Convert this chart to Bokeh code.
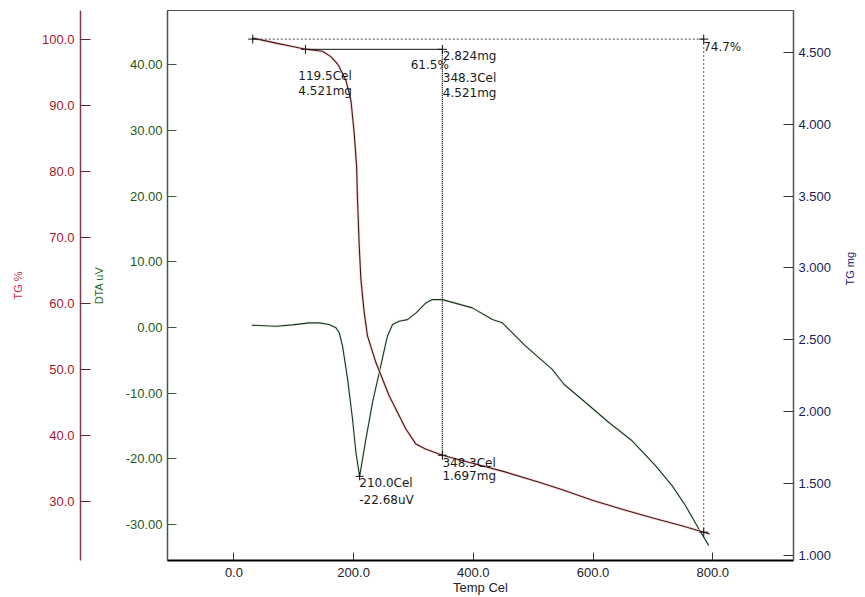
import math
from bokeh.plotting import figure
from bokeh.models import Range1d, LinearAxis, FixedTicker, NumeralTickFormatter
from bokeh.embed import file_html
from bokeh.resources import INLINE
from bokeh.core.properties import value

# ---------------- data ----------------
tg_temp = [31.4, 70.4, 98.0, 119.5, 148.0, 162.0, 173.0, 176.0, 187.0, 195.5, 201.0,
           205.0, 206.5, 209.4, 212.2, 217.7, 223.2, 237.2, 259.4, 287.3, 304.0,
           320.0, 348.3, 400.0, 450.0, 510.0, 550.0, 599.0, 650.0, 700.0, 750.0,
           785.0, 795.0]
tg_mg = [4.599, 4.564, 4.541, 4.521, 4.507, 4.470, 4.420, 4.398, 4.306, 4.167, 3.936,
         3.705, 3.474, 3.150, 2.920, 2.689, 2.527, 2.342, 2.111, 1.880, 1.776,
         1.740, 1.697, 1.640, 1.585, 1.510, 1.455, 1.384, 1.320, 1.260, 1.205,
         1.162, 1.150]

dta_temp = [29.8, 70.4, 98.0, 126.0, 142.6, 159.0, 170.5, 176.0, 181.5, 190.0, 198.2,
            203.8, 210.0, 220.5, 231.6, 242.7, 254.0, 256.6, 265.0, 276.0, 290.0,
            304.0, 320.7, 331.7, 348.3, 398.4, 431.8, 448.5, 487.5, 531.9, 551.4,
            587.6, 626.5, 665.3, 704.4, 732.0, 754.4, 776.6, 793.3]
dta_uv = [0.35, 0.20, 0.40, 0.71, 0.71, 0.45, -0.05, -0.80, -2.83, -7.90, -13.97,
          -19.00, -22.68, -17.00, -11.40, -6.90, -2.30, -1.30, 0.45, 0.96, 1.20,
          2.20, 3.75, 4.25, 4.25, 2.99, 1.21, 0.71, -2.84, -6.38, -8.65,
          -11.43, -14.47, -17.26, -21.05, -24.10, -27.13, -30.67, -33.20]

x_ticks = [0, 200, 400, 600, 800]
dta_ticks = [-30, -20, -10, 0, 10, 20, 30, 40]
pct_ticks = [30, 40, 50, 60, 70, 80, 90, 100]
mg_ticks = [1.0, 1.5, 2.0, 2.5, 3.0, 3.5, 4.0, 4.5]

# analysis results shown on the chart
m0 = 4.592            # initial mass (100 %)
t_start = 31.4
t_a = 119.5
t_b = 348.3
t_end = 785.0
m_a = 4.521
m_b = 1.697
step_loss = 61.5
total_loss = 74.7
m_end = m0 * (1 - total_loss / 100)
dta_peak_t = 210.0
dta_peak_v = -22.68

# ---------------- figure ----------------
MG_LO, MG_HI = 0.965, 4.791
p = figure(width=865, height=597, output_backend="svg", toolbar_location=None,
           x_range=Range1d(-111, 935), y_range=Range1d(-35.5, 48.3),
           min_border_left=0, min_border_right=0, min_border_top=10, min_border_bottom=0,
           background_fill_color="white", border_fill_color="white")
p.extra_y_ranges = {"mg": Range1d(MG_LO, MG_HI),
                    "pct": Range1d(MG_LO / m0 * 100, MG_HI / m0 * 100)}
p.grid.visible = False
p.outline_line_color = "#555555"
p.outline_line_width = 1

TICK_FONT = "Liberation Sans"

# x axis
xa = p.xaxis[0]
xa.ticker = FixedTicker(ticks=x_ticks)
xa.formatter = NumeralTickFormatter(format="0.0")
xa.major_tick_in = 8
xa.major_tick_out = 0
xa.minor_tick_line_color = None
xa.axis_line_width = 2
xa.axis_line_color = "black"
xa.major_tick_line_color = "#333333"
xa.major_label_text_font = TICK_FONT
xa.major_label_text_font_size = "13px"
xa.major_label_text_color = "#222222"
xa.major_label_standoff = 7
xa.axis_label = "Temp Cel"
xa.axis_label_text_font = TICK_FONT
xa.axis_label_text_font_size = "13px"
xa.axis_label_text_font_style = "normal"
xa.axis_label_text_color = "#222222"
xa.axis_label_standoff = 0

# DTA axis (default left)
ya = p.yaxis[0]
ya.ticker = FixedTicker(ticks=dta_ticks)
ya.formatter = NumeralTickFormatter(format="0.00")
ya.major_tick_in = 9
ya.major_tick_out = 0
ya.minor_tick_line_color = None
ya.axis_line_color = "#3c5a46"
ya.axis_line_width = 1.5
ya.major_tick_line_color = "#3c5a46"
ya.major_label_text_font = TICK_FONT
ya.major_label_text_font_size = "13px"
ya.major_label_text_color = "#1d5a22"
ya.major_label_standoff = 5
ya.axis_label = "DTA uV"
ya.axis_label_text_font = TICK_FONT
ya.axis_label_text_font_size = "11px"
ya.axis_label_text_font_style = "normal"
ya.axis_label_text_color = "#1f6b2a"
ya.axis_label_standoff = 18


def spacer(gap):
    # axis with a single white, label-less tick: only reserves room between stacked axes
    return LinearAxis(y_range_name="pct", ticker=FixedTicker(ticks=[21.3]),
                      axis_line_color=None, major_tick_line_color="white",
                      minor_tick_line_color=None, major_label_text_color=None,
                      major_label_standoff=0, major_tick_in=0, major_tick_out=gap)


# spacer between DTA and TG % axes
p.add_layout(spacer(9), "left")

# TG % axis
pa = LinearAxis(y_range_name="pct", ticker=FixedTicker(ticks=pct_ticks),
                formatter=NumeralTickFormatter(format="0.0"))
pa.major_tick_in = 10
pa.major_tick_out = 0
pa.minor_tick_line_color = None
pa.axis_line_color = "#7d3b4b"
pa.axis_line_width = 1.5
pa.major_tick_line_color = "#5a2a35"
pa.major_label_text_font = TICK_FONT
pa.major_label_text_font_size = "13px"
pa.major_label_text_color = "#a8172c"
pa.major_label_standoff = 6
pa.axis_label = "TG %"
pa.axis_label_text_font = TICK_FONT
pa.axis_label_text_font_size = "11px"
pa.axis_label_text_font_style = "normal"
pa.axis_label_text_color = "#c8283c"
pa.axis_label_standoff = 15
p.add_layout(pa, "left")

# outer spacer
p.add_layout(spacer(8), "left")

# TG mg axis (right)
ma = LinearAxis(y_range_name="mg", ticker=FixedTicker(ticks=mg_ticks),
                formatter=NumeralTickFormatter(format="0.000"))
ma.major_tick_in = 10
ma.major_tick_out = 0
ma.minor_tick_line_color = None
ma.axis_line_color = "#555555"
ma.axis_line_width = 1.5
ma.major_tick_line_color = "#333333"
ma.major_label_text_font = TICK_FONT
ma.major_label_text_font_size = "13px"
ma.major_label_text_color = "#1a1a5e"
ma.major_label_standoff = 5
ma.axis_label = "TG mg"
ma.axis_label_text_font = TICK_FONT
ma.axis_label_text_font_size = "11px"
ma.axis_label_text_font_style = "normal"
ma.axis_label_text_color = "#1a1a6e"
ma.axis_label_standoff = 16
ma.axis_label_orientation = math.pi / 2
p.add_layout(ma, "right")

# ---------------- curves ----------------
p.line(dta_temp, dta_uv, line_color="#eef8ee", line_width=3)
p.line(dta_temp, dta_uv, line_color="#1c3320", line_width=1.1)
p.line(tg_temp, tg_mg, y_range_name="mg", line_color="#f4d6d6", line_width=2.6)
p.line(tg_temp, tg_mg, y_range_name="mg", line_color="#4a1414", line_width=1.1)

# ---------------- analysis annotations ----------------
p.line([t_start, t_end], [m0, m0], y_range_name="mg",
       line_color="#444444", line_width=1, line_dash="2 2")
p.line([t_end, t_end], [m0, m_end], y_range_name="mg",
       line_color="#555555", line_width=1, line_dash="2 2")
p.line([t_a, t_b], [m_a, m_a], y_range_name="mg", line_color="#111111", line_width=1)
p.line([t_b, t_b], [m_a, m_b], y_range_name="mg",
       line_color="#000000", line_width=1.3, line_dash="1 1")

p.scatter([t_start, t_a, t_b, t_b, t_end, t_end], [m0, m_a, m_a, m_b, m0, m_end],
          y_range_name="mg", marker="cross", size=9, line_color="#111111", line_width=1)
p.scatter([dta_peak_t], [dta_peak_v], marker="cross", size=8,
          line_color="#111111", line_width=1)

ANN = dict(text_font=value("DejaVu Sans"), text_font_size="12px",
           text_color="#1a1a1a", text_baseline="top")
p.text(x=[107.6, 107.6, 349.0, 349.0, 349.0, 784.0, 348.3, 348.3],
       y=[4.385, 4.281, 4.523, 4.368, 4.269, 4.588, 1.693, 1.601],
       text=[f"{t_a:.1f}Cel", f"{m_a:.3f}mg", f"{m_a - m_b:.3f}mg",
             f"{t_b:.1f}Cel", f"{m_a:.3f}mg", f"{total_loss:.1f}%",
             f"{t_b:.1f}Cel", f"{m_b:.3f}mg"],
       y_range_name="mg", text_align="left", **ANN)
p.text(x=[359.0], y=[4.461], text=[f"{step_loss:.1f}%"], y_range_name="mg",
       text_align="right", **ANN)
p.text(x=[209.4, 209.4], y=[-22.7, -25.25],
       text=[f"{dta_peak_t:.1f}Cel", f"{dta_peak_v:.2f}uV"],
       text_align="left", **ANN)

open("out.html", "w").write(file_html(p, INLINE))
